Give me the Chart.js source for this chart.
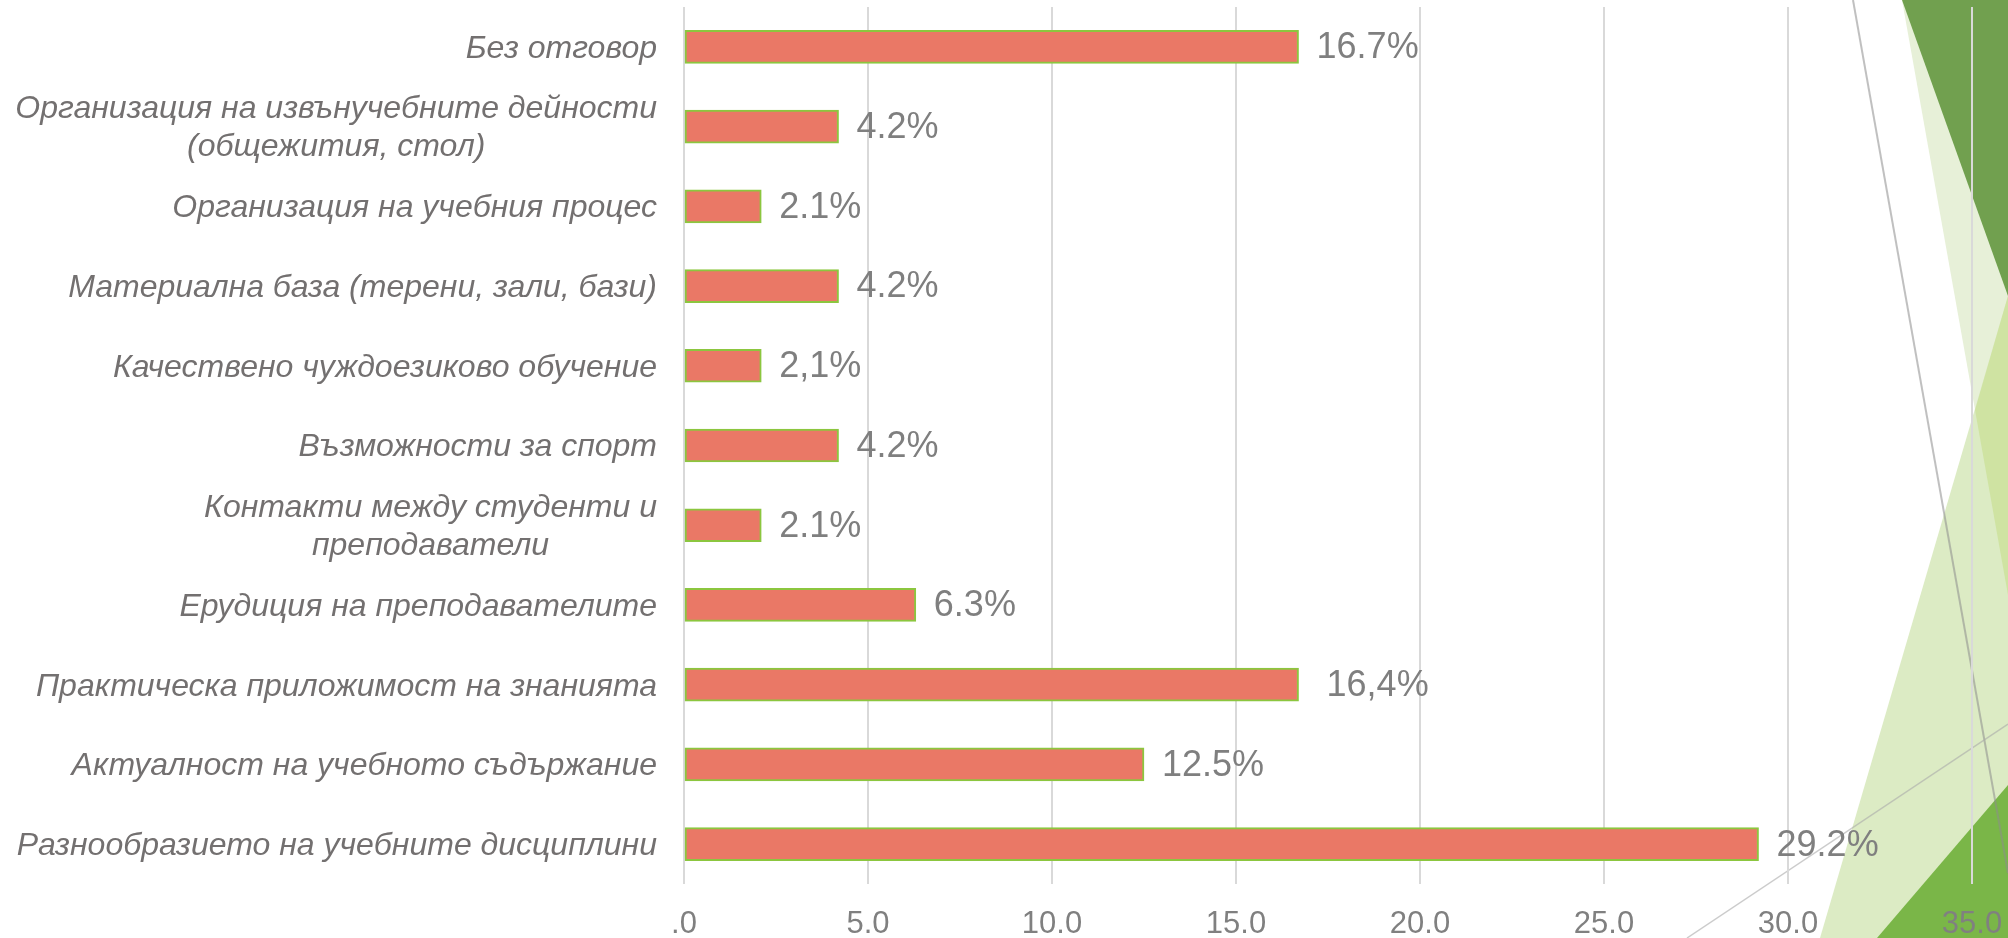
<!DOCTYPE html>
<html>
<head>
<meta charset="utf-8">
<script src="https://cdn.jsdelivr.net/npm/chart.js@4.4.1/dist/chart.umd.min.js"></script>
<style>
  html, body { margin: 0; padding: 0; background: #ffffff; }
  #wrap { position: relative; width: 2008px; height: 938px; }
</style>
</head>
<body>
<div id="wrap"><canvas id="c"></canvas></div>
<script>
// ---- data ----
const categories = [
  ["Без отговор"],
  ["Организация на извънучебните дейности", "(общежития, стол)"],
  ["Организация на учебния процес"],
  ["Материална база (терени, зали, бази)"],
  ["Качествено чуждоезиково обучение"],
  ["Възможности за спорт"],
  ["Контакти между студенти и", "преподаватели"],
  ["Ерудиция на преподавателите"],
  ["Практическа приложимост на знанията"],
  ["Актуалност на учебното съдържание"],
  ["Разнообразието на учебните дисциплини"]
];
const values = [16.7, 4.2, 2.1, 4.2, 2.1, 4.2, 2.1, 6.3, 16.7, 12.5, 29.2];
const valueLabels = ["16.7%", "4.2%", "2.1%", "4.2%", "2,1%", "4.2%", "2.1%", "6.3%", " 16,4%", "12.5%", "29.2%"];
const tickValues = [0, 5, 10, 15, 20, 25, 30, 35];
const tickLabels = [".0", "5.0", "10.0", "15.0", "20.0", "25.0", "30.0", "35.0"];

// ---- background theme decoration ----
const decoPlugin = {
  id: 'deco',
  beforeDraw(chart) {
    const ctx = chart.ctx;
    ctx.save();
    ctx.fillStyle = '#ffffff';
    ctx.fillRect(0, 0, chart.width, chart.height);
    const poly = (pts, color) => {
      ctx.beginPath();
      ctx.moveTo(pts[0][0], pts[0][1]);
      for (let i = 1; i < pts.length; i++) ctx.lineTo(pts[i][0], pts[i][1]);
      ctx.closePath();
      ctx.fillStyle = color;
      ctx.fill();
    };
    poly([[1902, 0], [2008, 0], [2008, 595]], '#e7f0d8');
    poly([[2008, 296], [1820, 938], [2008, 938]], '#dcebc4');
    poly([[2008, 296], [1975, 410], [2008, 595]], '#cfe3a2');
    poly([[1902, 0], [2008, 0], [2008, 296]], '#71a04f');
    poly([[1877, 938], [2008, 785], [2008, 938]], '#7ab648');
    ctx.lineWidth = 2;
    ctx.strokeStyle = 'rgba(140,140,140,0.55)';
    ctx.beginPath(); ctx.moveTo(1853, 0); ctx.lineTo(2008, 873); ctx.stroke();
    ctx.lineWidth = 1.5;
    ctx.strokeStyle = 'rgba(170,170,170,0.6)';
    ctx.beginPath(); ctx.moveTo(1687, 938); ctx.lineTo(2008, 724); ctx.stroke();
    ctx.restore();
  }
};

// ---- category labels (right-aligned block, lines centred) ----
const catLabelPlugin = {
  id: 'catLabels',
  afterDraw(chart) {
    const ctx = chart.ctx;
    const yScale = chart.scales.y;
    const rightEdge = yScale.right - 27;
    const lineH = 38;
    ctx.save();
    ctx.font = 'italic 32px "Liberation Sans", Arial, sans-serif';
    ctx.fillStyle = '#737070';
    ctx.textBaseline = 'middle';
    ctx.textAlign = 'center';
    categories.forEach((lines, i) => {
      const y = yScale.getPixelForTick(i) + 2;
      const w = Math.max(...lines.map(l => ctx.measureText(l).width));
      const cx = rightEdge - w / 2;
      const y0 = y - (lines.length - 1) * lineH / 2;
      lines.forEach((l, j) => ctx.fillText(l, cx, y0 + j * lineH));
    });
    ctx.restore();
  }
};

// ---- value labels ----
const valueLabelPlugin = {
  id: 'valueLabels',
  afterDatasetsDraw(chart) {
    const ctx = chart.ctx;
    const meta = chart.getDatasetMeta(0);
    ctx.save();
    ctx.font = '36px "Liberation Sans", Arial, sans-serif';
    ctx.fillStyle = '#7f7f7f';
    ctx.textBaseline = 'middle';
    ctx.textAlign = 'left';
    meta.data.forEach((bar, i) => {
      ctx.fillText(valueLabels[i], bar.x + 18, bar.y + 1.5);
    });
    ctx.restore();
  }
};

new Chart(document.getElementById('c'), {
  type: 'bar',
  data: {
    labels: categories,
    datasets: [{
      data: values,
      backgroundColor: '#ea7866',
      borderColor: '#8cc63f',
      borderWidth: 2,
      borderSkipped: false,
      barThickness: 33
    }]
  },
  options: {
    indexAxis: 'y',
    responsive: true,
    maintainAspectRatio: false,
    animation: false,
    layout: { padding: { left: 0, right: 36, top: 7, bottom: 0 } },
    plugins: { legend: { display: false }, tooltip: { enabled: false } },
    scales: {
      x: {
        type: 'linear',
        min: 0,
        max: 35,
        afterBuildTicks(scale) { scale.ticks = tickValues.map(v => ({ value: v })); },
        afterFit(scale) { scale.height = 54; scale.paddingLeft = 0; scale.paddingRight = 0; },
        grid: { color: '#d9d9d9', lineWidth: 2, drawTicks: false },
        border: { display: false },
        ticks: {
          padding: 22,
          color: '#808080',
          font: { family: '"Liberation Sans", Arial, sans-serif', size: 31 },
          maxRotation: 0,
          callback: (v, i) => tickLabels[i]
        }
      },
      y: {
        afterFit(scale) { scale.width = 684; },
        grid: { display: false },
        border: { display: false },
        ticks: { display: false }
      }
    }
  },
  plugins: [decoPlugin, catLabelPlugin, valueLabelPlugin]
});
</script>
</body>
</html>
